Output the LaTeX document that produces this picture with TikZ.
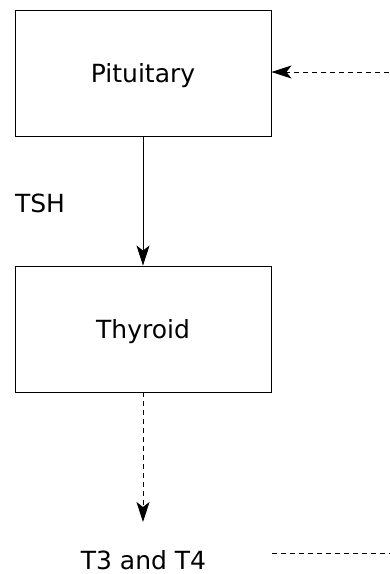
\documentclass[tikz,border=0pt]{standalone}
\usepackage{fontspec}
\setmainfont{DejaVu Sans}
\usetikzlibrary{arrows.meta}
\begin{document}
\begin{tikzpicture}[x=1pt,y=-1pt,
  box/.style={draw, line width=0.9pt, minimum width=256pt, minimum height=126pt, inner sep=0pt, text height=18.5pt, text depth=0pt, font=\fontsize{25}{29}\selectfont},
  lbl/.style={inner sep=0pt, anchor=base, font=\fontsize{25}{29}\selectfont},
  conn/.style={line width=0.9pt, -{Stealth[length=20pt,width=13pt,inset=5pt]}},
  dsh/.style={dash pattern=on 5pt off 4pt}]
\useasboundingbox (0,0) rectangle (389,574);
\node[box] (pit) at (143,73) {Pituitary};
\node[box] (thy) at (143,329) {Thyroid};
\node[lbl] (tsh) at (40,212) {TSH};
\node[lbl] (t34) at (143.5,569) {T3 and T4};
\coordinate (inR) at (389,72);
\coordinate (outL) at (272,553);
\coordinate (outR) at (390,553);
\coordinate (arrEnd) at (143,522);
\draw[conn] (pit.south) -- (thy.north);
\draw[conn,dsh] (inR) -- (pit.east |- inR);
\draw[conn,dsh] (thy.south) -- (arrEnd);
\draw[line width=0.9pt,dsh] (outL) -- (outR);
\end{tikzpicture}
\end{document}
